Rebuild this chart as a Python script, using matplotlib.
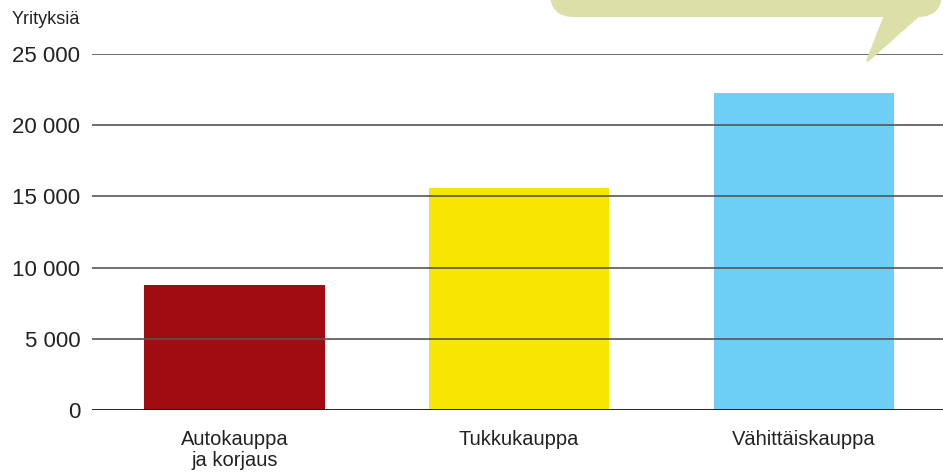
import numpy as np
from matplotlib import pyplot as plt
from matplotlib.patches import FancyBboxPatch, Polygon

plt.rcParams['font.family'] = ['Liberation Sans', 'DejaVu Sans']

categories = ['Autokauppa\nja korjaus', 'Tukkukauppa', 'Vähittäiskauppa']
companies = [8800, 15580, 22250]
bar_colors = ['#a10b12', '#f9e600', '#6dcff6']
y_ticks = [0, 5000, 10000, 15000, 20000, 25000]
y_labels = ['0', '5 000', '10 000', '15 000', '20 000', '25 000']

W, H = 943, 476
fig = plt.figure(figsize=(W / 100, H / 100), dpi=100)
ax = fig.add_axes([92 / W, (H - 410) / H, 1 - 92 / W, (410 - 54) / H])

x = np.arange(len(categories))
ax.bar(x, companies, width=0.633, color=bar_colors, zorder=1)
for t in y_ticks[1:]:
    ax.axhline(t, color='#555555', lw=1.2, zorder=2)
ax.axhline(0, color='black', lw=1.2, zorder=3)

ax.set_xlim(-0.501, 2.49)
ax.set_ylim(0, 25000)
ax.set_yticks(y_ticks)
ax.set_yticklabels(y_labels, fontsize=16, color='#222222')
ax.set_xticks(x)
ax.set_xticklabels(categories, fontsize=14.5, color='#222222', linespacing=1.15)
ax.tick_params(axis='y', length=0, pad=8.5)
ax.tick_params(axis='x', length=0, pad=14.5)
for s in ax.spines.values():
    s.set_visible(False)

fig.text(12 / W, 1 - 19 / H, 'Yrityksiä', fontsize=13, color='#222222',
         va='center', ha='left')

# speech bubble cut off at the top right
ov = fig.add_axes([0, 0, 1, 1], zorder=5)
ov.set_xlim(0, W)
ov.set_ylim(H, 0)
ov.axis('off')
ov.patch.set_alpha(0)
bubble_col = '#dddfa8'
ov.add_patch(FancyBboxPatch((550, -60), 392, 77,
                            boxstyle='round,pad=0,rounding_size=24',
                            fc=bubble_col, ec='none'))
ov.add_patch(Polygon([(884, 15), (921, 15), (868, 62), (866, 61)],
                     closed=True, fc=bubble_col, ec='none'))

plt.savefig('out.png', dpi=100)
